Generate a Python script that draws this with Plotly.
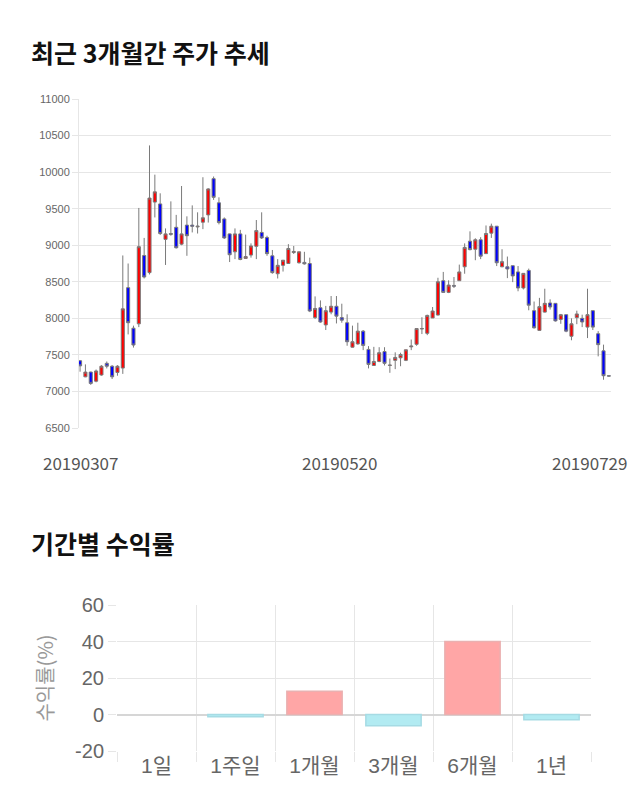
import plotly.graph_objects as go

# ---------------- data ----------------
MONTH_DAYS = {
    "201903": [7, 8, 11, 12, 13, 14, 15, 18, 19, 20, 21, 22, 25, 26, 27, 28, 29],
    "201904": [1, 2, 3, 4, 5, 8, 9, 10, 11, 12, 15, 16, 17, 18, 19, 22, 23, 24, 25, 26, 29, 30],
    "201905": [2, 3, 7, 8, 9, 10, 13, 14, 15, 16, 17, 20, 21, 22, 23, 24, 27, 28, 29, 30, 31],
    "201906": [3, 4, 5, 7, 10, 11, 12, 13, 14, 17, 18, 19, 20, 21, 24, 25, 26, 27, 28],
    "201907": [1, 2, 3, 4, 5, 8, 9, 10, 11, 12, 15, 16, 17, 18, 19, 22, 23, 24, 25, 26, 29],
}
DATES = [f"{ym}{d:02d}" for ym, days in MONTH_DAYS.items() for d in days]

OPEN = [7420, 7200, 7265, 7140, 7225, 7385, 7345, 7260, 7320, 8420,
        7865, 7925, 8860, 8625, 9590, 9565, 9080, 9160, 9245, 9015,
        9275, 9275, 9250, 9315, 9415, 9910, 9580, 9360, 9155, 8910,
        9155, 8820, 8865, 8985, 9175, 9105, 8855, 8610, 8725, 8750,
        8900, 8760, 8765, 8750, 8010, 8145, 7910, 8085, 8165, 8010,
        7940, 7605, 7650, 7825, 7575, 7355, 7410, 7545, 7355, 7425,
        7460, 7425, 7610, 7645, 7855, 7795, 8005, 8045, 8515, 8355,
        8450, 8515, 8705, 9055, 8945, 9075, 8885, 9165, 9260, 8705,
        8705, 8720, 8635, 8415, 8655, 8105, 7835, 8085, 8210, 8205,
        7985, 8050, 7755, 8010, 8000, 7880, 8105, 7790, 7555, 7215]
HIGH = [7430, 7370, 7270, 7300, 7360, 7410, 7360, 7360, 8860, 8750,
        7900, 9510, 9100, 10365, 9965, 9710, 9230, 9600, 9415, 9810,
        9395, 9545, 9450, 9930, 9780, 9940, 9655, 9380, 9160, 9230,
        9210, 9145, 9025, 9345, 9450, 9130, 8935, 8810, 8795, 9015,
        8990, 8910, 8910, 8830, 8300, 8245, 8170, 8305, 8305, 8200,
        8055, 7900, 7940, 7840, 7620, 7610, 7605, 7605, 7450, 7535,
        7530, 7570, 7710, 7860, 8015, 8050, 8155, 8555, 8635, 8520,
        8565, 8735, 9025, 9190, 9095, 9110, 9270, 9295, 9260, 8945,
        8845, 8720, 8715, 8615, 8680, 8230, 8280, 8405, 8260, 8205,
        8060, 8050, 8000, 8105, 8050, 8405, 8105, 7825, 7640, 7220]
LOW = [7270, 7195, 7090, 7125, 7215, 7315, 7170, 7215, 7240, 7780,
       7600, 7880, 8545, 8600, 9380, 9140, 8730, 9130, 8955, 9000,
       8855, 9175, 9160, 9220, 9310, 9620, 9285, 9085, 8770, 8810,
       8795, 8815, 8830, 8810, 9085, 8855, 8610, 8545, 8640, 8745,
       8880, 8750, 8735, 8085, 7990, 7940, 7840, 8055, 7930, 7940,
       7625, 7600, 7640, 7565, 7315, 7350, 7400, 7355, 7255, 7305,
       7345, 7415, 7565, 7625, 7785, 7770, 8005, 8040, 8355, 8345,
       8415, 8515, 8610, 8930, 8795, 8810, 8880, 9100, 8715, 8700,
       8550, 8495, 8370, 8395, 8110, 7860, 7830, 8080, 8120, 7955,
       7925, 7810, 7700, 7920, 7880, 7730, 7840, 7480, 7160, 7200]
CLOSE = [7350, 7265, 7110, 7280, 7345, 7345, 7200, 7345, 8130, 7940,
         7635, 8980, 8565, 9645, 9730, 9160, 9155, 9150, 8965, 9155,
         9130, 9260, 9260, 9375, 9770, 9655, 9310, 9100, 8870, 9155,
         8805, 8845, 8990, 9200, 9100, 8885, 8625, 8725, 8795, 8955,
         8915, 8910, 8745, 8100, 8135, 7950, 8105, 8165, 8030, 7975,
         7680, 7680, 7825, 7630, 7370, 7410, 7530, 7385, 7360, 7465,
         7505, 7570, 7620, 7860, 7860, 8040, 8100, 8500, 8355, 8455,
         8440, 8635, 8970, 8940, 9075, 8850, 9160, 9260, 8760, 8775,
         8675, 8580, 8415, 8615, 8180, 7870, 8160, 8205, 8155, 7965,
         8050, 7825, 7925, 8060, 7950, 8050, 7880, 7640, 7215, 7210]

PRICE_TICKS = [6500, 7000, 7500, 8000, 8500, 9000, 9500, 10000, 10500, 11000]
DATE_LABELS = [DATES[0], DATES[50], DATES[-1]]

PERIODS = ["1일", "1주일", "1개월", "3개월", "6개월", "1년"]
RETURNS = [0.0, -1.2, 12.7, -6.2, 40.0, -2.9]
RETURN_TICKS = [-20, 0, 20, 40, 60]

# ---------------- figure ----------------
W, H = 640, 810
GRID = "#e6e6e6"

fig = go.Figure()

fig.add_trace(go.Candlestick(
    x=DATES, open=OPEN, high=HIGH, low=LOW, close=CLOSE,
    xaxis="x", yaxis="y",
    increasing=dict(fillcolor="#ff0000", line=dict(color="#7a7a7a", width=1)),
    decreasing=dict(fillcolor="#0000ff", line=dict(color="#7a7a7a", width=1)),
    whiskerwidth=0, showlegend=False, hoverinfo="skip",
))

pos_fill, neg_fill = "#ffa6a6", "#b2ebf2"
pos_line, neg_line = "#eab0b0", "#a6dbe4"
fig.add_trace(go.Bar(
    x=PERIODS, y=RETURNS, xaxis="x2", yaxis="y2", width=0.7,
    marker=dict(color=[pos_fill if v >= 0 else neg_fill for v in RETURNS],
                line=dict(color=[pos_line if v >= 0 else neg_line for v in RETURNS],
                          width=[1.5 if v != 0 else 0 for v in RETURNS])),
    showlegend=False, hoverinfo="skip",
))

num_font = "Liberation Sans, Arial, Noto Sans CJK KR, sans-serif"
kr_font = "Noto Sans CJK KR, sans-serif"

fig.update_layout(
    width=W, height=H,
    margin=dict(l=0, r=0, t=0, b=0, autoexpand=False),
    paper_bgcolor="white", plot_bgcolor="white",
    boxgap=0.18,
    xaxis=dict(domain=[79 / W, 611 / W], anchor="y", type="category", range=[-0.2, 99.4],
               showgrid=False, showticklabels=False, ticks="", zeroline=False,
               rangeslider=dict(visible=False), fixedrange=True, automargin=False),
    yaxis=dict(domain=[1 - 428 / H, 1 - 99 / H], anchor="x", range=[6500, 11000],
               tickvals=PRICE_TICKS, ticktext=[str(v) for v in PRICE_TICKS],
               gridcolor=GRID, gridwidth=1, showline=True, linecolor=GRID, linewidth=1,
               ticks="outside", ticklen=6, tickcolor=GRID,
               tickfont=dict(family=num_font, size=11, color="#666666"),
               zeroline=False, automargin=False),
    xaxis2=dict(domain=[117 / W, 591 / W], anchor="y2", type="category", tickson="boundaries",
                showgrid=True, gridcolor=GRID, ticks="outside", ticklen=10, tickcolor=GRID,
                tickfont=dict(family=num_font, size=21, color="#666666"),
                zeroline=False, showline=False, automargin=False),
    yaxis2=dict(domain=[1 - 751 / H, 1 - 605 / H], anchor="x2", range=[-20, 60],
                tickvals=RETURN_TICKS, ticktext=[str(v) for v in RETURN_TICKS],
                gridcolor=GRID, ticks="outside", ticklen=8, tickcolor=GRID,
                tickfont=dict(family=num_font, size=20, color="#666666"),
                zeroline=True, zerolinecolor="#d6d6d6", zerolinewidth=2, automargin=False,
                title=dict(text="수익률(%)", font=dict(family=kr_font, size=20, color="#999999"),
                           standoff=16)),
)

annotations = [
    dict(text="최근 3개월간 주가 추세", x=29 / W, y=1 - 52 / H, xref="paper", yref="paper",
         xanchor="left", yanchor="middle", showarrow=False,
         font=dict(family=kr_font, size=25, color="#111111", weight=700)),
    dict(text="기간별 수익률", x=29 / W, y=1 - 543 / H, xref="paper", yref="paper",
         xanchor="left", yanchor="middle", showarrow=False,
         font=dict(family=kr_font, size=25, color="#111111", weight=700)),
]
shifts = [0, -8, -19]
for d, s in zip(DATE_LABELS, shifts):
    annotations.append(dict(text=d, x=DATES.index(d), y=1 - 462 / H, xref="x", yref="paper",
                            xanchor="center", yanchor="middle", xshift=s, showarrow=False,
                            font=dict(family=kr_font, size=17, color="#555555")))
fig.update_layout(annotations=annotations)

fig.write_html("out.html")
